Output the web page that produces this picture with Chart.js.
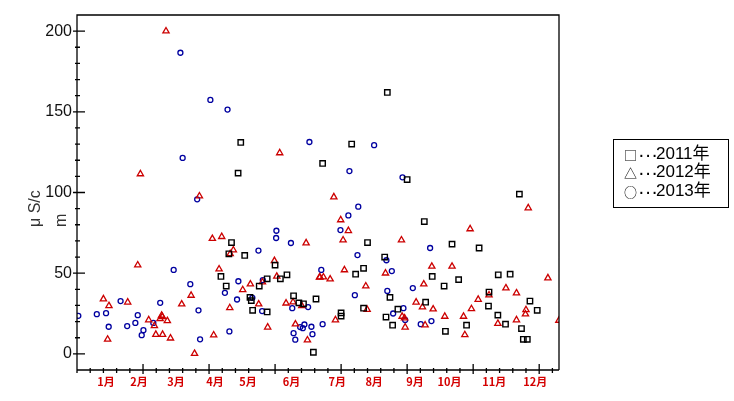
<!DOCTYPE html>
<html>
<head>
<meta charset="utf-8">
<script src="https://cdn.jsdelivr.net/npm/chart.js@4.4.1/dist/chart.umd.min.js"></script>
<style>
  html, body { margin: 0; padding: 0; background: #fff; }
  #wrap { width: 734px; height: 401px; }
</style>
</head>
<body>
<div id="wrap"><canvas id="chart" width="734" height="401"></canvas></div>
<script>
// x = day of year, y = μS/cm
const data2011 = [
  [122, 112], [124, 131], [235, 162], [208, 130], [186, 118], [250, 108], [335, 99],
  [263, 82], [117, 69], [115, 62], [127, 61], [109, 48], [113, 42], [131, 35],
  [132, 33], [133, 27], [144, 26], [138, 42], [144, 46.5], [150, 55], [154, 46.5],
  [159, 49], [164, 36], [168, 31.6], [171.5, 31], [181, 34], [179, 1], [220, 69],
  [284, 68], [304.5, 65.6], [233, 60], [217, 53], [211, 49.4], [269, 48], [289, 46],
  [319, 49], [328, 49.4], [278, 42], [312, 38.3], [237, 35], [264, 32], [343, 32.7],
  [311.6, 29.6], [348.5, 27], [217, 28.3], [243, 27.7], [234, 22.8], [200, 25.4],
  [200, 23.4], [318.7, 24], [324.5, 18.4], [239, 17.8], [295, 17.8], [336.6, 15.7],
  [338, 9], [341, 9], [279, 14]
];
const data2012 = [
  [67.4, 200], [153.5, 124.5], [48, 111.5], [92.7, 97.8], [46, 55], [102.5, 71.4],
  [109.6, 72.6], [116, 62], [118.4, 64.3], [107.6, 52.5], [125.5, 39.7], [131.3, 43.2],
  [137.6, 30.8], [140.4, 44.5], [149.5, 57.7], [173.5, 68.7], [151.3, 48], [183.6, 47.4],
  [158.3, 31.4], [163.6, 32.1], [170.2, 29.8], [165.4, 18.4], [174.5, 8.5], [20, 34],
  [24.2, 29.8], [23.2, 9], [38.4, 32], [54.3, 21], [58.6, 17.4], [64.1, 23.8],
  [64.6, 23], [62.9, 21.7], [68.4, 20.5], [59.7, 12], [64.8, 12], [70.8, 9.7],
  [79.3, 30.8], [86.4, 36.2], [89, 0.2], [103.5, 11.6], [115.7, 28.5], [144.4, 16.5],
  [194.5, 97.2], [341.7, 90.4], [199.7, 83], [205.5, 76.3], [297.7, 77.4], [201.5, 70.5],
  [245.7, 70.5], [268.7, 54.2], [284, 54.2], [202.5, 52], [233.6, 50], [356.6, 47],
  [184, 47.6], [186.6, 47.6], [191.7, 46.3], [218.7, 42], [262.6, 43.2], [324.8, 40.8],
  [332.8, 37.7], [312, 36.4], [256.8, 32], [303.8, 33.7], [261.6, 29], [269.7, 27.7],
  [298.7, 27.9], [340, 27.3], [339.6, 24.6], [219.7, 27.5], [246.2, 23.2], [248, 22.2],
  [195.7, 21], [278.5, 23.2], [292.7, 23.2], [332.8, 21], [318.7, 18.8], [364.9, 20.7],
  [263.6, 17.8], [248.5, 16.5], [293.7, 11.8]
];
const data2013 = [
  [78.3, 186.6], [101, 157.4], [114, 151.4], [176, 131.3], [80, 121.4], [225, 129.3],
  [206.3, 113.3], [246.5, 109.4], [91, 95.8], [73.2, 52], [137.4, 64], [112, 37.8],
  [122.2, 45], [121.2, 33.7], [132.8, 34.7], [140.2, 26.5], [140.7, 45.7], [150.8, 71.8],
  [151, 76.3], [162, 68.7], [185, 52], [175, 29], [163, 28.3], [169, 16.6], [172.2, 18.2],
  [171, 15.9], [177.5, 16.8], [178.3, 12.2], [164, 12.8], [165.3, 8.8], [1, 23.6],
  [15, 24.6], [22, 25.2], [24, 16.8], [33, 32.7], [38, 17.2], [44.2, 19.2], [46, 24],
  [49, 11.6], [50.3, 14.7], [57.8, 19.2], [63, 31.6], [85.8, 43.2], [92, 27], [93.2, 9],
  [115.4, 13.9], [213, 91.2], [205.5, 85.8], [199.5, 76.7], [267.4, 65.6], [212.4, 61.2],
  [234.3, 58], [238.4, 51.3], [254.3, 40.8], [210.4, 36.4], [235, 39], [247.2, 28.3],
  [239.4, 25], [248.5, 21], [260.3, 18.4], [268.4, 20.3], [186, 18.4]
];

const monthLabels = ['1月', '2月', '3月', '4月', '5月', '6月', '7月', '8月', '9月', '10月', '11月', '12月'];
const monthDays = [22, 47, 75, 104.5, 129.5, 162.5, 197, 225, 256, 282, 316, 347];
const yTicks = [0, 50, 100, 150, 200];
const legendSymbols = ['□', '△', '○'];

const toXY = arr => arr.map(([x, y]) => ({ x, y }));

const axesPlugin = {
  id: 'axesPlugin',
  afterDraw(chart) {
    const { ctx, chartArea: a, scales: { x, y } } = chart;
    ctx.save();
    ctx.strokeStyle = '#000';
    ctx.lineWidth = 1.3;
    ctx.beginPath();
    // frame
    ctx.moveTo(a.left, a.bottom + 3);
    ctx.lineTo(a.left, a.top);
    ctx.lineTo(a.right, a.top);
    ctx.lineTo(a.right, a.bottom);
    ctx.moveTo(a.left, a.bottom);
    ctx.lineTo(a.right, a.bottom);
    // x ticks
    for (let v = 10; v <= 360; v += 10) {
      const px = x.getPixelForValue(v);
      const major = v % 50 === 0;
      ctx.moveTo(px, a.bottom - (major ? 6 : 2));
      ctx.lineTo(px, a.bottom + (major ? 4 : 3));
    }
    // y ticks
    for (let v = 0; v <= 200; v += 10) {
      const py = y.getPixelForValue(v);
      const major = v % 50 === 0;
      ctx.moveTo(a.left - (major ? 4 : 2), py);
      ctx.lineTo(a.left + (major ? 8 : 3), py);
    }
    ctx.stroke();

    // y axis title
    ctx.fillStyle = '#333';
    ctx.font = "16px 'Liberation Sans', Arial, sans-serif";
    ctx.textAlign = 'left';
    ctx.textBaseline = 'middle';
    ctx.translate(36, 227);
    ctx.rotate(-Math.PI / 2);
    ctx.fillText('μ S/c', 0, 0);
    ctx.fillText('m', 0, 26);
    ctx.restore();

    // legend
    ctx.save();
    ctx.strokeStyle = '#000';
    ctx.lineWidth = 1;
    ctx.strokeRect(613.5, 139.5, 115, 68);
    ctx.fillStyle = '#000';
    ctx.textAlign = 'left';
    ctx.textBaseline = 'middle';
    chart.data.datasets.forEach((ds, i) => {
      const ly = 154 + i * 18.5;
      ctx.font = "13px 'Noto Sans CJK JP', sans-serif";
      ctx.fillText(legendSymbols[i], 624, ly + 1);
      ctx.font = "20px 'Liberation Sans', sans-serif";
      ctx.fillText('···', 638, ly + 1);
      ctx.font = "17px 'Liberation Sans', 'Noto Sans CJK JP', sans-serif";
      ctx.fillText(ds.label, 656, ly);
    });
    ctx.restore();
  }
};

new Chart(document.getElementById('chart'), {
  type: 'scatter',
  data: {
    datasets: [
      {
        label: '2011年',
        data: toXY(data2011),
        pointStyle: 'rect',
        pointRadius: 3.8,
        borderColor: '#000000',
        backgroundColor: 'rgba(0,0,0,0)',
        borderWidth: 1.4,
      },
      {
        label: '2012年',
        data: toXY(data2012),
        pointStyle: 'triangle',
        pointRadius: 3.6,
        borderColor: '#cc0000',
        backgroundColor: 'rgba(0,0,0,0)',
        borderWidth: 1.3,
      },
      {
        label: '2013年',
        data: toXY(data2013),
        pointStyle: 'circle',
        pointRadius: 2.5,
        borderColor: '#0000a0',
        backgroundColor: 'rgba(0,0,0,0)',
        borderWidth: 1.3,
      },
    ],
  },
  options: {
    responsive: false,
    animation: false,
    layout: { padding: { left: 0, top: 15, right: 175, bottom: 0 } },
    plugins: {
      legend: { display: false },
      tooltip: { enabled: false },
    },
    scales: {
      x: {
        type: 'linear',
        min: 0,
        max: 365,
        afterBuildTicks: s => { s.ticks = monthDays.map(v => ({ value: v })); },
        afterFit: s => { s.height = 31; },
        ticks: {
          callback: (v, i) => monthLabels[i],
          color: '#d40000',
          font: { size: 11, weight: 'bold', family: "'Noto Sans CJK SC', sans-serif" },
          autoSkip: false,
          maxRotation: 0,
          padding: 5,
        },
        grid: { display: false, drawTicks: false },
        border: { display: false },
      },
      y: {
        type: 'linear',
        min: -10,
        max: 210,
        afterBuildTicks: s => { s.ticks = yTicks.map(v => ({ value: v })); },
        afterFit: s => { s.width = 77; },
        ticks: {
          color: '#111',
          font: { size: 16, family: "'Liberation Sans', Arial, sans-serif" },
          padding: 5,
        },
        grid: { display: false, drawTicks: false },
        border: { display: false },
      },
    },
  },
  plugins: [axesPlugin],
});
</script>
</body>
</html>
